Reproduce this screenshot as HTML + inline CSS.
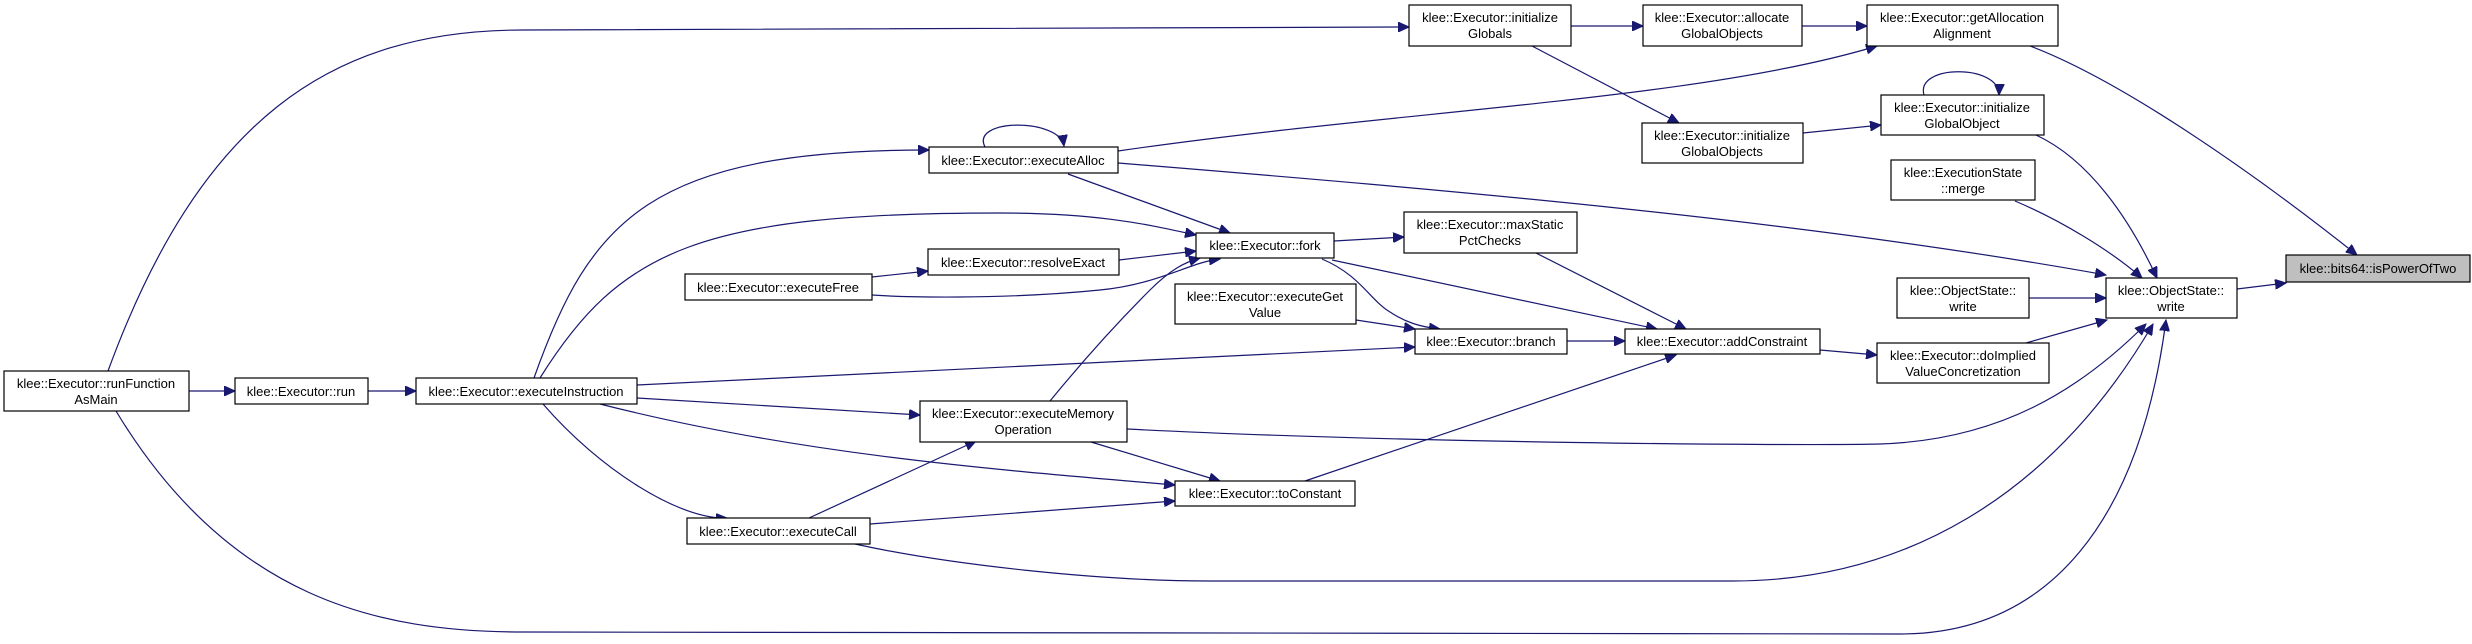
<!DOCTYPE html>
<html><head><meta charset="utf-8"><style>
html,body{margin:0;padding:0;background:#fff;}
svg{display:block;}
text{font-family:"Liberation Sans",Arial,sans-serif;font-size:13px;fill:#000;}
.n{fill:#fff;stroke:#000;stroke-width:1.2;}
.e{fill:none;stroke:#191970;stroke-width:1.2;}
</style></head><body>
<svg width="2472" height="644" viewBox="0 0 2472 644" xmlns="http://www.w3.org/2000/svg">
<defs>
<marker id="a" markerUnits="userSpaceOnUse" markerWidth="12" markerHeight="10" refX="11" refY="5" orient="auto">
<path d="M0,0 L11,5 L0,10 Z" fill="#191970" stroke="#191970"/>
</marker>
</defs>
<g marker-end="url(#a)">
<path class="e" d="M108,371 C200,120 330,30 523,30 L1409,27"/>
<path class="e" d="M189,391 L235,391"/>
<path class="e" d="M116,411 C230,600 380,632 523,632 L1900,634 C2050,634 2140,520 2166,320"/>
<path class="e" d="M368,391 L416,391"/>
<path class="e" d="M534,378 C590,220 650,150 929,150"/>
<path class="e" d="M540,378 C620,250 700,213 1000,213 C1100,213 1150,225 1196,235"/>
<path class="e" d="M637,385 L1415,347"/>
<path class="e" d="M637,398 L920,415"/>
<path class="e" d="M600,404 C800,455 1000,470 1175,485"/>
<path class="e" d="M543,404 C600,470 680,520 727,518"/>
<path class="e" d="M872,277 L928,271"/>
<path class="e" d="M872,295 C900,297 1000,300 1100,290 C1160,284 1190,262 1220,259"/>
<path class="e" d="M985,147 C970,118 1060,118 1064,146"/>
<path class="e" d="M1118,151 C1400,110 1700,100 1877,46"/>
<path class="e" d="M1068,174 L1230,233"/>
<path class="e" d="M1118,163 C1450,190 1800,220 2106,275"/>
<path class="e" d="M1119,260 L1196,251"/>
<path class="e" d="M1050,401 C1100,340 1140,300 1150,290 C1170,270 1185,262 1200,258"/>
<path class="e" d="M1127,429 C1400,443 1800,446 1880,444 C2000,440 2080,390 2146,324"/>
<path class="e" d="M1091,442 L1220,481"/>
<path class="e" d="M809,518 L976,441"/>
<path class="e" d="M870,524 L1175,501"/>
<path class="e" d="M855,544 C950,565 1100,581 1210,581 L1733,581 C1900,581 2050,500 2153,324"/>
<path class="e" d="M1334,241 L1404,237"/>
<path class="e" d="M1322,259 C1360,275 1370,300 1390,312 C1405,322 1420,327 1440,329"/>
<path class="e" d="M1332,260 L1657,329"/>
<path class="e" d="M1536,253 L1686,329"/>
<path class="e" d="M1356,320 L1415,329"/>
<path class="e" d="M1567,341 L1625,341"/>
<path class="e" d="M1305,481 L1676,355"/>
<path class="e" d="M1820,350 L1877,355"/>
<path class="e" d="M1571,26 L1643,26"/>
<path class="e" d="M1532,46 L1679,123"/>
<path class="e" d="M1802,26 L1867,26"/>
<path class="e" d="M1803,133 L1881,125"/>
<path class="e" d="M1924,95 C1915,64 2000,64 1999,95"/>
<path class="e" d="M2030,46 C2120,80 2250,170 2357,255"/>
<path class="e" d="M2036,135 C2090,160 2130,220 2157,278"/>
<path class="e" d="M2015,201 C2060,220 2110,250 2142,278"/>
<path class="e" d="M2029,298 L2106,298"/>
<path class="e" d="M2026,343 L2107,320"/>
<path class="e" d="M2237,289 L2286,283"/>
</g>
<g>
<rect class="n" x="4" y="371" width="185" height="40"/>
<text x="96" y="388" text-anchor="middle">klee::Executor::runFunction</text>
<text x="96" y="404" text-anchor="middle">AsMain</text>
<rect class="n" x="235" y="378" width="133" height="26"/>
<text x="301" y="396" text-anchor="middle">klee::Executor::run</text>
<rect class="n" x="416" y="378" width="221" height="26"/>
<text x="526" y="396" text-anchor="middle">klee::Executor::executeInstruction</text>
<rect class="n" x="685" y="274" width="187" height="26"/>
<text x="778" y="292" text-anchor="middle">klee::Executor::executeFree</text>
<rect class="n" x="687" y="518" width="183" height="26"/>
<text x="778" y="536" text-anchor="middle">klee::Executor::executeCall</text>
<rect class="n" x="929" y="147" width="189" height="26"/>
<text x="1023" y="165" text-anchor="middle">klee::Executor::executeAlloc</text>
<rect class="n" x="928" y="249" width="191" height="26"/>
<text x="1023" y="267" text-anchor="middle">klee::Executor::resolveExact</text>
<rect class="n" x="920" y="401" width="207" height="41"/>
<text x="1023" y="418" text-anchor="middle">klee::Executor::executeMemory</text>
<text x="1023" y="434" text-anchor="middle">Operation</text>
<rect class="n" x="1409" y="5" width="162" height="41"/>
<text x="1490" y="22" text-anchor="middle">klee::Executor::initialize</text>
<text x="1490" y="38" text-anchor="middle">Globals</text>
<rect class="n" x="1643" y="5" width="159" height="41"/>
<text x="1722" y="22" text-anchor="middle">klee::Executor::allocate</text>
<text x="1722" y="38" text-anchor="middle">GlobalObjects</text>
<rect class="n" x="1867" y="5" width="191" height="41"/>
<text x="1962" y="22" text-anchor="middle">klee::Executor::getAllocation</text>
<text x="1962" y="38" text-anchor="middle">Alignment</text>
<rect class="n" x="1642" y="123" width="161" height="40"/>
<text x="1722" y="140" text-anchor="middle">klee::Executor::initialize</text>
<text x="1722" y="156" text-anchor="middle">GlobalObjects</text>
<rect class="n" x="1881" y="95" width="163" height="40"/>
<text x="1962" y="112" text-anchor="middle">klee::Executor::initialize</text>
<text x="1962" y="128" text-anchor="middle">GlobalObject</text>
<rect class="n" x="1891" y="160" width="144" height="40"/>
<text x="1963" y="177" text-anchor="middle">klee::ExecutionState</text>
<text x="1963" y="193" text-anchor="middle">::merge</text>
<rect class="n" x="1196" y="233" width="138" height="25"/>
<text x="1265" y="250" text-anchor="middle">klee::Executor::fork</text>
<rect class="n" x="1404" y="212" width="173" height="41"/>
<text x="1490" y="229" text-anchor="middle">klee::Executor::maxStatic</text>
<text x="1490" y="245" text-anchor="middle">PctChecks</text>
<rect class="n" x="1175" y="284" width="181" height="40"/>
<text x="1265" y="301" text-anchor="middle">klee::Executor::executeGet</text>
<text x="1265" y="317" text-anchor="middle">Value</text>
<rect class="n" x="1415" y="329" width="152" height="25"/>
<text x="1491" y="346" text-anchor="middle">klee::Executor::branch</text>
<rect class="n" x="1625" y="329" width="195" height="25"/>
<text x="1722" y="346" text-anchor="middle">klee::Executor::addConstraint</text>
<rect class="n" x="1897" y="278" width="132" height="40"/>
<text x="1963" y="295" text-anchor="middle">klee::ObjectState::</text>
<text x="1963" y="311" text-anchor="middle">write</text>
<rect class="n" x="1877" y="343" width="172" height="40"/>
<text x="1963" y="360" text-anchor="middle">klee::Executor::doImplied</text>
<text x="1963" y="376" text-anchor="middle">ValueConcretization</text>
<rect class="n" x="1175" y="481" width="180" height="25"/>
<text x="1265" y="498" text-anchor="middle">klee::Executor::toConstant</text>
<rect class="n" x="2106" y="278" width="131" height="40"/>
<text x="2171" y="295" text-anchor="middle">klee::ObjectState::</text>
<text x="2171" y="311" text-anchor="middle">write</text>
<rect x="2286" y="255" width="184" height="27" fill="#bfbfbf" stroke="#000" stroke-width="1.2"/>
<text x="2378" y="273" text-anchor="middle">klee::bits64::isPowerOfTwo</text>
</g>
</svg>
</body></html>
